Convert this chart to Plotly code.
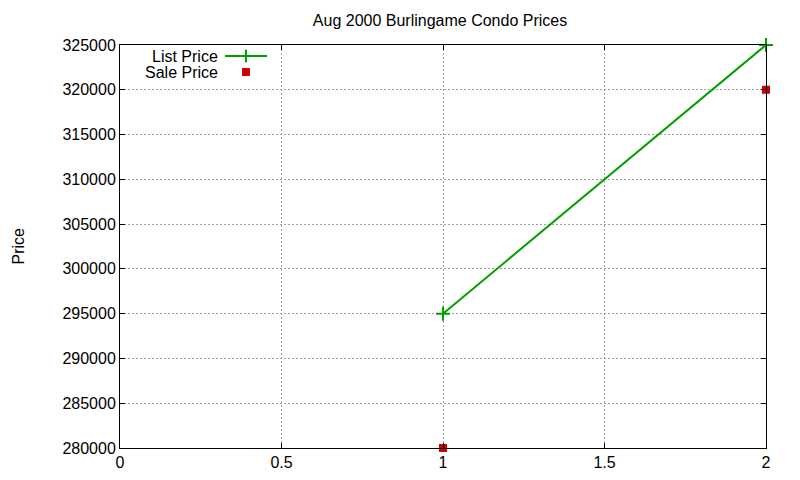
import plotly.graph_objects as go

list_x = [1, 2]
list_y = [295000, 325000]
sale_x = [1, 2]
sale_y = [280000, 320000]
x_ticks = [0, 0.5, 1, 1.5, 2]
x_tick_labels = ["0", "0.5", "1", "1.5", "2"]
y_ticks = [280000, 285000, 290000, 295000, 300000, 305000, 310000, 315000, 320000, 325000]
y_tick_labels = [str(v) for v in y_ticks]

GREEN = "#00a000"
RED = "#cc0000"
FONT = "Liberation Sans, Arial, sans-serif"
FS = 16

fig = go.Figure()
fig.add_trace(go.Scatter(x=list_x, y=list_y, mode="lines+markers", name="List Price",
                         line=dict(color=GREEN, width=2),
                         marker=dict(symbol="cross-thin", size=10, line=dict(color=GREEN, width=2)),
                         cliponaxis=False, showlegend=False))
fig.add_trace(go.Scatter(x=sale_x, y=sale_y, mode="markers", name="Sale Price",
                         marker=dict(symbol="square", size=8, color=RED),
                         cliponaxis=False, showlegend=False))

# legend samples (gnuplot-style: key text right-aligned, sample on right)
fig.add_trace(go.Scatter(x=[0.1625, 0.2276], y=[0.9727, 0.9727], mode="lines",
                         line=dict(color=GREEN, width=2), xaxis="x2", yaxis="y2",
                         showlegend=False, hoverinfo="skip"))
fig.add_trace(go.Scatter(x=[0.195], y=[0.9727], mode="markers",
                         marker=dict(symbol="cross-thin", size=9, line=dict(color=GREEN, width=2)),
                         xaxis="x2", yaxis="y2", showlegend=False, hoverinfo="skip"))
fig.add_trace(go.Scatter(x=[0.195], y=[0.933], mode="markers",
                         marker=dict(symbol="square", size=8, color=RED),
                         xaxis="x2", yaxis="y2", showlegend=False, hoverinfo="skip"))

axis_common = dict(showline=True, linecolor="black", linewidth=1, mirror="allticks",
                   ticks="inside", ticklen=5, tickcolor="black",
                   showgrid=True, gridcolor="#a0a0a0", griddash="2px,2px", gridwidth=1,
                   zeroline=False, tickfont=dict(family=FONT, size=FS, color="black"))

fig.update_layout(
    width=800, height=480,
    margin=dict(l=112, r=42, t=37, b=40),
    paper_bgcolor="white", plot_bgcolor="white",
    font=dict(family=FONT, size=FS, color="black"),
    title=dict(text="Aug 2000 Burlingame Condo Prices", x=432/800, xanchor="center",
               y=1 - 12/480, yanchor="middle", font=dict(family=FONT, size=FS, color="black")),
    xaxis=dict(range=[0, 2], tickvals=x_ticks, ticktext=x_tick_labels, **axis_common),
    yaxis=dict(range=[280000, 325000], tickvals=y_ticks, ticktext=y_tick_labels, **axis_common),
    xaxis2=dict(range=[0, 1], overlaying="x", visible=False),
    yaxis2=dict(range=[0, 1], overlaying="y", visible=False),
    showlegend=False,
    annotations=[
        dict(text="Price", xref="paper", yref="paper", x=0, y=0.5, xshift=-102,
             xanchor="center", yanchor="middle",
             textangle=-90, showarrow=False, font=dict(family=FONT, size=FS)),
        dict(text="List Price", xref="paper", yref="paper", x=0.1547, y=0.9727,
             xanchor="right", yanchor="middle", showarrow=False, font=dict(family=FONT, size=FS)),
        dict(text="Sale Price", xref="paper", yref="paper", x=0.1547, y=0.933,
             xanchor="right", yanchor="middle", showarrow=False, font=dict(family=FONT, size=FS)),
    ],
)

fig.write_html("out.html")
